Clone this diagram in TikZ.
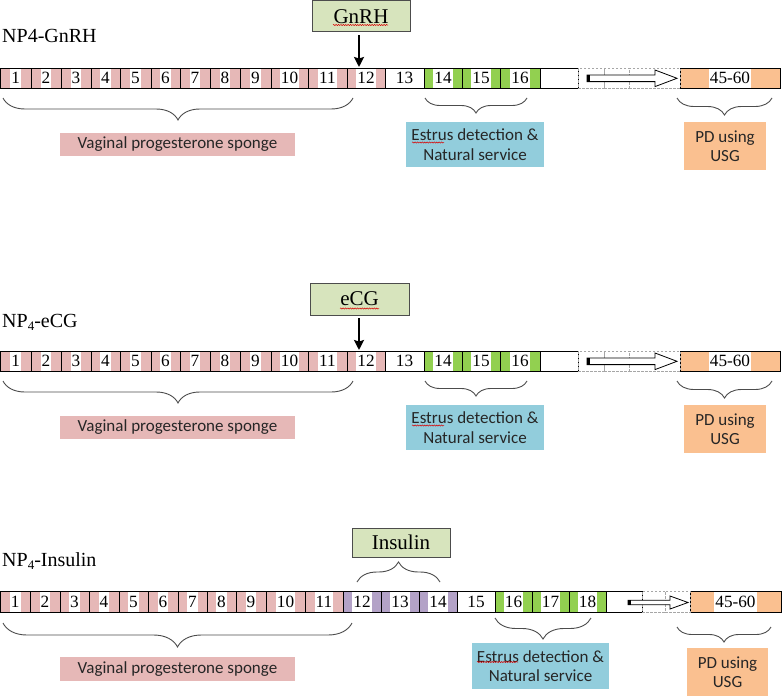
\documentclass[tikz,border=0pt]{standalone}
\usepackage{fontspec}
\setmainfont{Liberation Serif}
\newfontfamily\calib{Carlito}
\usetikzlibrary{decorations.pathreplacing,decorations.pathmorphing,arrows.meta}
\definecolor{pinkc}{HTML}{E6B8B7}
\definecolor{greenc}{HTML}{92D050}
\definecolor{orangec}{HTML}{FAC090}
\definecolor{bluec}{HTML}{92CDDC}
\definecolor{purplec}{HTML}{B3A2C7}
\definecolor{hormc}{HTML}{D7E4BD}
\definecolor{txtc}{HTML}{262626}
\tikzset{
 cellbox/.style={draw=black, line width=0.8pt, inner sep=0pt, outer sep=0pt},
 numtxt/.style={fill=white, inner xsep=1pt, inner ysep=0pt, font=\fontsize{17.2}{17.2}\selectfont, anchor=center},
 dashcell/.style={draw=gray!70, line width=0.6pt, dash pattern=on 2.5pt off 1.5pt, inner sep=0pt},
 barline/.style={draw=black, line width=0.8pt},
 bracestyle/.style={draw=black!70, line width=0.9pt, decorate, decoration={brace, mirror, amplitude=#1}},
 bracestyleup/.style={draw=black!70, line width=0.9pt, decorate, decoration={brace, amplitude=#1}},
 labbox/.style={inner sep=0pt, align=center, font=\calib\fontsize{17}{19.5}\selectfont, text=txtc},
 hormbox/.style={draw=black!70, fill=hormc, line width=0.9pt, inner sep=0pt, font=\fontsize{21}{21}\selectfont},
 rowlab/.style={font=\fontsize{20}{20}\selectfont, anchor=west, inner sep=0pt},
 blockarrow/.style={fill=white, draw=black, line width=0.8pt, line join=miter},
 hormarrow/.style={-{Stealth[length=10pt,width=10pt,inset=1.5pt]}, line width=2.6pt},
 spell/.style={draw=red!85!black, line width=0.5pt, decorate, decoration={snake, amplitude=0.6pt, segment length=2.4pt}}
}
\newcommand{\subfour}{{\fontsize{13}{13}\selectfont\raisebox{-3pt}{4}}}
\begin{document}
\begin{tikzpicture}[x=1pt,y=-1pt]
\useasboundingbox (0,0) rectangle (782,696);

% ================= Row 1 =================
\node[rowlab] (lab1) at (2,36) {NP4-GnRH};
\foreach \n/\t/\a/\b/\c in {1/1/0.5/31/pinkc, 2/2/31/61/pinkc, 3/3/61/91/pinkc, 4/4/91/120/pinkc, 5/5/120/151/pinkc, 6/6/151/180/pinkc, 7/7/180/210/pinkc, 8/8/210/240/pinkc, 9/9/240/271/pinkc, 10/10/271/308/pinkc, 11/11/308/347/pinkc, 12/12/347/385/pinkc, 13/13/385/424/white, 14/14/424/462/greenc, 15/15/462/500/greenc, 16/16/500/540/greenc, e/{}/540/578/white, p/45-60/680/780/orangec}{
  \node[cellbox, fill=\c, minimum width={(\b-\a)*1pt}, minimum height=20pt] (r1c\n) at ({(\a+\b)/2},78) {};
  \node[numtxt, minimum height=19pt] (r1t\n) at (r1c\n.center) {\t};
}
\foreach \n/\a/\b in {d1/578/604, d2/604/629, d3/629/680}{
  \node[dashcell, minimum width={(\b-\a)*1pt}, minimum height=20pt] (r1\n) at ({(\a+\b)/2},78) {};
}
\draw[barline] (r1c1.north west) -- (r1ce.north east) (r1c1.south west) -- (r1ce.south east);
\draw[blockarrow] (587,75) -- (655,75) -- (655,70) -- (677,78.3) -- (655,86.6) -- (655,81.6) -- (587,81.6) -- cycle;
\draw[line width=2.5pt] (588.4,75) -- (588.4,81.6);

\node[hormbox, minimum width=98pt, minimum height=31pt] (gnrh) at (361,16.3) {GnRH};
\draw[spell] (333,25) -- (388,25);
\coordinate (a1) at (359,67);
\path ([yshift=-3pt]gnrh.south) coordinate (g1s);
\draw[hormarrow] (g1s -| a1) -- (a1);

\draw[bracestyle=22pt] (3,98) -- (353,98);
\draw[bracestyle=15pt] (425,98) -- (527,98);
\draw[bracestyle=17pt] (677,98) -- (772,98);
\node[labbox, fill=pinkc, minimum width=235pt, minimum height=23pt] (vag1) at (177.5,144.5) {Vaginal progesterone sponge};
\node[labbox, fill=bluec, minimum width=138pt, minimum height=45pt] (est1) at (475,144.5) {Estrus detection \&\\Natural service};
\draw[spell] (412,142.5) -- (444,142.5);
\node[labbox, fill=orangec, minimum width=82pt, minimum height=48pt] (pd1) at (725,146) {PD using\\USG};

% ================= Row 2 =================
\node[rowlab] (lab2) at (2,322) {NP\subfour-eCG};
\foreach \n/\t/\a/\b/\c in {1/1/0.5/31/pinkc, 2/2/31/61/pinkc, 3/3/61/91/pinkc, 4/4/91/120/pinkc, 5/5/120/151/pinkc, 6/6/151/180/pinkc, 7/7/180/210/pinkc, 8/8/210/240/pinkc, 9/9/240/271/pinkc, 10/10/271/308/pinkc, 11/11/308/347/pinkc, 12/12/347/385/pinkc, 13/13/385/424/white, 14/14/424/462/greenc, 15/15/462/500/greenc, 16/16/500/540/greenc, e/{}/540/578/white, p/45-60/680/780/orangec}{
  \node[cellbox, fill=\c, minimum width={(\b-\a)*1pt}, minimum height=20pt] (r2c\n) at ({(\a+\b)/2},361) {};
  \node[numtxt, minimum height=19pt] (r2t\n) at (r2c\n.center) {\t};
}
\foreach \n/\a/\b in {d1/578/604, d2/604/629, d3/629/680}{
  \node[dashcell, minimum width={(\b-\a)*1pt}, minimum height=20pt] (r2\n) at ({(\a+\b)/2},361) {};
}
\draw[barline] (r2c1.north west) -- (r2ce.north east) (r2c1.south west) -- (r2ce.south east);
\draw[blockarrow] (587,358) -- (655,358) -- (655,353) -- (677,361.3) -- (655,369.6) -- (655,364.6) -- (587,364.6) -- cycle;
\draw[line width=2.5pt] (588.4,358) -- (588.4,364.6);

\node[hormbox, minimum width=99pt, minimum height=32pt] (ecg) at (359.5,299) {eCG};
\draw[spell] (340,308.5) -- (379,308.5);
\coordinate (a2) at (359,350);
\path ([yshift=-3pt]ecg.south) coordinate (g2s);
\draw[hormarrow] (g2s -| a2) -- (a2);

\draw[bracestyle=22pt] (3,381) -- (353,381);
\draw[bracestyle=15pt] (425,381) -- (527,381);
\draw[bracestyle=17pt] (677,381) -- (772,381);
\node[labbox, fill=pinkc, minimum width=235pt, minimum height=23pt] (vag2) at (177.5,427.5) {Vaginal progesterone sponge};
\node[labbox, fill=bluec, minimum width=138pt, minimum height=45pt] (est2) at (475,427.5) {Estrus detection \&\\Natural service};
\draw[spell] (412,425.5) -- (444,425.5);
\node[labbox, fill=orangec, minimum width=82pt, minimum height=48pt] (pd2) at (725,429) {PD using\\USG};

% ================= Row 3 =================
\node[rowlab] (lab3) at (2,561) {NP\subfour-Insulin};
\foreach \n/\t/\a/\b/\c in {1/1/0.5/30/pinkc, 2/2/30/60/pinkc, 3/3/60/89/pinkc, 4/4/89/119/pinkc, 5/5/119/148/pinkc, 6/6/148/178/pinkc, 7/7/178/207/pinkc, 8/8/207/236/pinkc, 9/9/236/266/pinkc, 10/10/266/305/pinkc, 11/11/305/343/pinkc, 12/12/343/381/purplec, 13/13/381/419/purplec, 14/14/419/457/purplec, 15/15/457/495/white, 16/16/495/532/greenc, 17/17/532/569/greenc, 18/18/569/606/greenc, e/{}/606/642/white, p/45-60/690/781/orangec}{
  \node[cellbox, fill=\c, minimum width={(\b-\a)*1pt}, minimum height=21pt] (r3c\n) at ({(\a+\b)/2},601.5) {};
  \node[numtxt, minimum height=20pt] (r3t\n) at (r3c\n.center) {\t};
}
\foreach \n/\a/\b in {d1/642/665, d2/665/690}{
  \node[dashcell, minimum width={(\b-\a)*1pt}, minimum height=21pt] (r3\n) at ({(\a+\b)/2},601.5) {};
}
\draw[barline] (r3c1.north west) -- (r3ce.north east) (r3c1.south west) -- (r3ce.south east);
\draw[blockarrow] (628,600.3) -- (670,600.3) -- (670,596) -- (688,602.5) -- (670,609) -- (670,604.7) -- (628,604.7) -- cycle;
\draw[line width=2.5pt] (629.4,600.3) -- (629.4,604.7);

\node[hormbox, minimum width=98pt, minimum height=29pt] (ins) at (401,542.5) {Insulin};
\draw[bracestyleup=20pt] (357,582) -- (440,582);

\draw[bracestyle=24pt] (3,623) -- (352,623);
\draw[bracestyle=21pt] (495,618) -- (591,618);
\draw[bracestyle=15pt] (677,627) -- (771,627);
\node[labbox, fill=pinkc, minimum width=235pt, minimum height=24pt] (vag3) at (177.5,669) {Vaginal progesterone sponge};
\node[labbox, fill=bluec, minimum width=137pt, minimum height=46pt] (est3) at (540.5,666) {Estrus detection \&\\Natural service};
\draw[spell] (477,662) -- (518,662);
\node[labbox, fill=orangec, minimum width=81pt, minimum height=48pt] (pd3) at (727.5,672) {PD using\\USG};
\end{tikzpicture}
\end{document}
